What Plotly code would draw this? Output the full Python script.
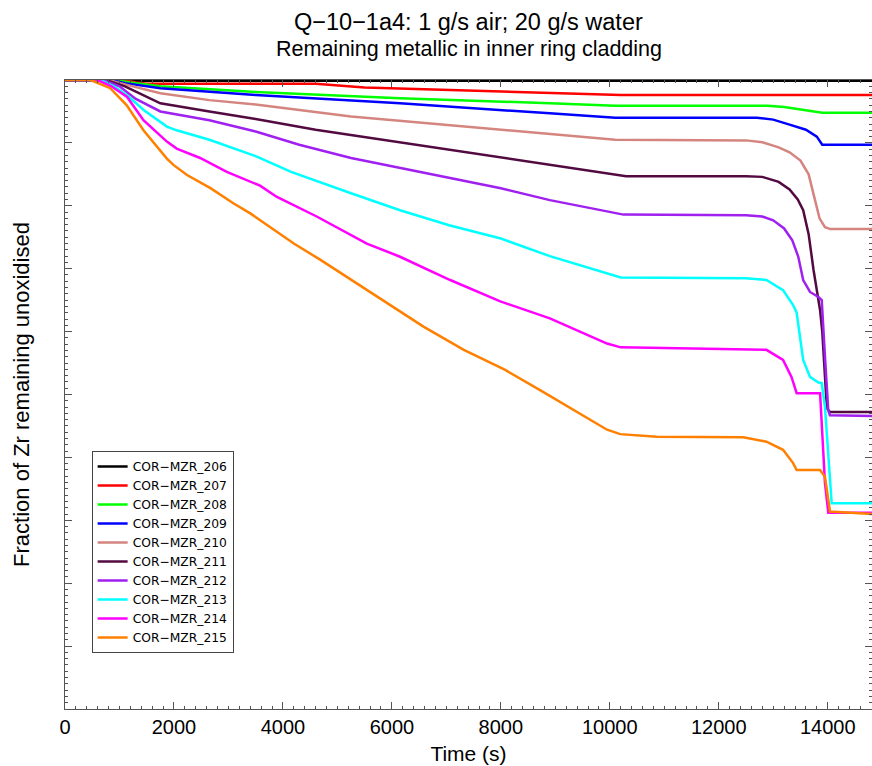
import plotly.graph_objects as go

T_END = 14813

names = ["COR−MZR_206", "COR−MZR_207", "COR−MZR_208", "COR−MZR_209", "COR−MZR_210",
         "COR−MZR_211", "COR−MZR_212", "COR−MZR_213", "COR−MZR_214", "COR−MZR_215"]
colors = ["#000000", "#ff0000", "#00ff00", "#0000ff", "#d4857f",
          "#520a40", "#a020f0", "#00ffff", "#ff00ff", "#ff8000"]

t206 = [0, T_END]
y206 = [0.999, 0.999]

t207 = [0, 1100, 1300, 1500, 3500, 4600, 5500, 7000, 8900, 9900, 10200, T_END]
y207 = [1, 1, 0.996, 0.994, 0.994, 0.994, 0.988, 0.984, 0.979, 0.976, 0.976, 0.976]

t208 = [0, 900, 1200, 1750, 3500, 6150, 8900, 10100, 12900, 13200, 13900, T_END]
y208 = [1, 1, 0.996, 0.990, 0.981, 0.971, 0.963, 0.959, 0.959, 0.957, 0.948, 0.948]

t209 = [0, 850, 1100, 1750, 3500, 6150, 8900, 10100, 12700, 13000, 13300, 13600, 13800, 13900, T_END]
y209 = [1, 1, 0.995, 0.987, 0.976, 0.963, 0.947, 0.940, 0.940, 0.937, 0.929, 0.921, 0.910, 0.897, 0.897]

t210 = [0, 800, 1100, 1750, 2650, 3500, 5250, 7050, 8900, 10100, 12500, 12800, 13100, 13300,
        13500, 13650, 13750, 13850, 13950, 14050, T_END]
y210 = [1, 1, 0.993, 0.979, 0.968, 0.961, 0.942, 0.928, 0.914, 0.905, 0.904, 0.901, 0.893, 0.885,
        0.872, 0.850, 0.815, 0.780, 0.766, 0.763, 0.763]

t211 = [0, 750, 1100, 1400, 1750, 2650, 3500, 4600, 5850, 7050, 8900, 10300, 12500, 12800, 13100,
        13300, 13450, 13550, 13650, 13740, 13860, 13900, 13985, 14040, T_END]
y211 = [1, 1, 0.990, 0.978, 0.963, 0.950, 0.938, 0.921, 0.905, 0.889, 0.865, 0.847, 0.847, 0.846, 0.838,
        0.826, 0.810, 0.793, 0.755, 0.698, 0.634, 0.600, 0.478, 0.472, 0.472]

t212 = [0, 700, 1000, 1300, 1750, 1950, 2650, 3500, 4300, 5250, 6150, 7050, 8000, 8900, 10250, 12500,
        12800, 13000, 13200, 13350, 13460, 13550, 13675, 13830, 13890, 13950, 14010, 14040, T_END]
y212 = [1, 1, 0.990, 0.970, 0.950, 0.947, 0.936, 0.918, 0.897, 0.876, 0.860, 0.844, 0.828, 0.809, 0.786, 0.785,
        0.783, 0.777, 0.764, 0.745, 0.719, 0.682, 0.663, 0.655, 0.650, 0.560, 0.475, 0.467, 0.466]

t213 = [0, 650, 900, 1150, 1450, 1870, 2050, 2650, 3500, 4150, 5250, 6150, 7050, 8000, 8900, 9950, 10200,
        12500, 12875, 13180, 13365, 13430, 13490, 13550, 13675, 13830, 13890, 13950, 14073, T_END]
y213 = [1, 1, 0.990, 0.975, 0.952, 0.926, 0.920, 0.905, 0.879, 0.854, 0.820, 0.793, 0.769, 0.748, 0.720, 0.692, 0.686,
        0.685, 0.682, 0.666, 0.642, 0.630, 0.592, 0.555, 0.528, 0.519, 0.518, 0.480, 0.327, 0.327]

t214 = [0, 600, 850, 1140, 1440, 1870, 2050, 2480, 2970, 3580, 3890, 4620, 5540, 6150, 7070, 7990, 8900,
        9950, 10200, 12500, 12875, 13180, 13335, 13430, 13860, 13950, 14011, T_END]
y214 = [1, 1, 0.990, 0.973, 0.936, 0.902, 0.891, 0.876, 0.854, 0.832, 0.814, 0.783, 0.740, 0.719, 0.682, 0.648, 0.621,
        0.581, 0.575, 0.572, 0.571, 0.555, 0.528, 0.502, 0.502, 0.359, 0.312, 0.312]

t215 = [0, 470, 830, 1130, 1440, 1870, 1990, 2240, 2670, 3090, 3400, 4200, 4690, 5730, 6580, 7320, 8080,
        8720, 9950, 10190, 10860, 12450, 12875, 13180, 13365, 13430, 13860, 13950, 14042, T_END]
y215 = [1, 1, 0.987, 0.960, 0.920, 0.875, 0.865, 0.849, 0.828, 0.804, 0.788, 0.740, 0.714, 0.656, 0.608, 0.571, 0.539,
        0.507, 0.444, 0.437, 0.433, 0.432, 0.425, 0.412, 0.391, 0.380, 0.380, 0.369, 0.314, 0.310]

series_t = [t206, t207, t208, t209, t210, t211, t212, t213, t214, t215]
series_y = [y206, y207, y208, y209, y210, y211, y212, y213, y214, y215]

x_ticks = [0, 2000, 4000, 6000, 8000, 10000, 12000, 14000]

FONT = "Liberation Sans, Arial, sans-serif"

fig = go.Figure()
for n, c, t, y in zip(names, colors, series_t, series_y):
    fig.add_trace(go.Scatter(x=t, y=y, mode="lines", name=n,
                             line=dict(color=c, width=2.5), cliponaxis=False))

axis_color = "#555555"
fig.update_layout(
    width=872, height=766,
    margin=dict(l=65, r=0, t=80, b=57),
    paper_bgcolor="white", plot_bgcolor="white",
    font=dict(family=FONT, color="black"),
    showlegend=True,
    legend=dict(x=0.033, y=(709 - 451) / 629, xanchor="left", yanchor="top",
                bgcolor="white", bordercolor="#444444", borderwidth=1,
                font=dict(size=12.3, family="DejaVu Sans, sans-serif"),
                itemwidth=30, tracegroupgap=0),
)
fig.add_annotation(text="Q−10−1a4: 1 g/s air; 20 g/s water", xref="paper", yref="paper",
                   x=0.5, y=1 + (80 - 22) / 629, xanchor="center", yanchor="middle",
                   showarrow=False, font=dict(size=23.5, family=FONT))
fig.add_annotation(text="Remaining metallic in inner ring cladding", xref="paper", yref="paper",
                   x=0.5, y=1 + (80 - 49) / 629, xanchor="center", yanchor="middle",
                   showarrow=False, font=dict(size=21.5, family=FONT))

fig.update_xaxes(range=[0, T_END], tickmode="array", tickvals=x_ticks,
                 ticktext=[str(v) for v in x_ticks],
                 ticks="inside", ticklen=7, tickwidth=1, tickcolor=axis_color,
                 minor=dict(dtick=200, ticks="inside", ticklen=3, tickcolor=axis_color),
                 showline=True, linecolor=axis_color, linewidth=1, mirror="allticks",
                 showgrid=False, zeroline=False,
                 tickfont=dict(size=20, family=FONT),
                 title=dict(text="Time (s)", font=dict(size=21, family=FONT), standoff=9))
fig.update_yaxes(range=[0, 1], tick0=0, dtick=0.1, showticklabels=False,
                 ticks="inside", ticklen=7, tickwidth=1, tickcolor=axis_color,
                 minor=dict(dtick=0.01, ticks="inside", ticklen=3, tickcolor=axis_color),
                 showline=True, linecolor=axis_color, linewidth=1, mirror="allticks",
                 showgrid=False, zeroline=False,
                 title=dict(text="Fraction of Zr remaining unoxidised", font=dict(size=22, family=FONT), standoff=28))

fig.write_html("out.html")
